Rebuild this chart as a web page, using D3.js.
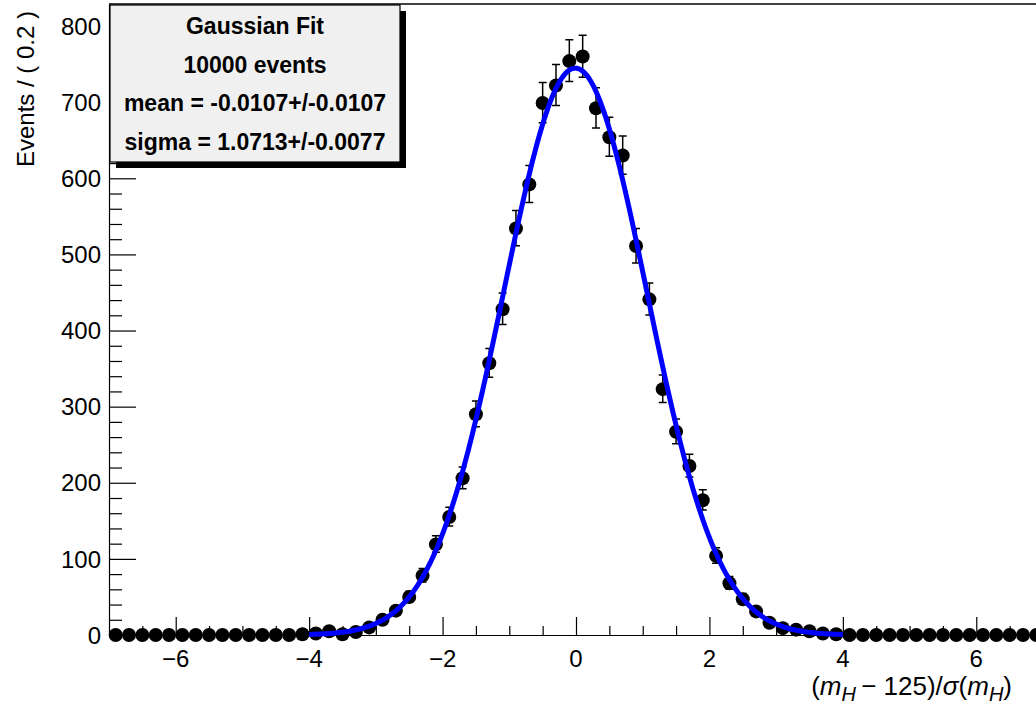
<!DOCTYPE html>
<html>
<head>
<meta charset="utf-8">
<script src="https://cdn.jsdelivr.net/npm/d3@7"></script>
<style>
  html, body { margin: 0; padding: 0; background: #ffffff; }
  svg { display: block; font-family: "Liberation Sans", Arial, Helvetica, sans-serif; }
</style>
</head>
<body>
<svg id="chart" width="1036" height="708"></svg>
<script>
// Histogram binning: 70 bins of width 0.2 covering [-7, 7]
const binLow = -7;
const binWidth = 0.2;
const counts = [
  0, 0, 0, 0, 0, 0, 0, 0, 0, 0, 0, 0, 0, 0,           // -6.9 .. -4.3
  1, 2, 5, 1, 4, 10, 20, 32, 50, 78,                    // -4.1 .. -2.3
  119, 155, 206, 290, 357, 428, 534, 592, 699, 722,     // -2.1 .. -0.3
  754, 760, 692, 654, 630, 511, 441, 323, 267, 222,     // -0.1 .. 1.7
  177, 104, 68, 47, 31, 16, 9, 7, 5, 2,                 //  1.9 .. 3.7
  1,                                                    //  3.9
  0, 0, 0, 0, 0, 0, 0, 0, 0, 0, 0, 0, 0, 0, 0           //  4.1 .. 6.9
];

// Fit result shown in the statistics box
const nEvents = 10000;
const fitMean = -0.0107, fitMeanErr = 0.0107;
const fitSigma = 1.0713, fitSigmaErr = 0.0077;
const curveRange = [-4, 4];

const xTickLabels = [-6, -4, -2, 0, 2, 4, 6];
const yTickLabels = [0, 100, 200, 300, 400, 500, 600, 700, 800];

const svg = d3.select("#chart");

const defs = svg.append("defs");
defs.append("filter").attr("id", "soft")
  .attr("x", "-50%").attr("y", "-50%").attr("width", "200%").attr("height", "200%")
  .append("feGaussianBlur").attr("stdDeviation", 0.6);

const x = d3.scaleLinear().domain([-7, 7]).range([109, 1043]);
const y = d3.scaleLinear().domain([0, 829]).range([635, 4]);

const data = counts.map((n, i) => {
  const s = Math.sqrt(n + 0.25);
  return {
    c: binLow + binWidth * (i + 0.5),
    n: n,
    lo: n > 0 ? s - 0.5 : 0,
    hi: s + 0.5
  };
});

// Frame: top border line
svg.append("line")
  .attr("x1", x(-7)).attr("x2", 1036)
  .attr("y1", 4).attr("y2", 4)
  .attr("stroke", "#000").attr("stroke-width", 1.5);

// Y axis (ticks pointing inward)
const yAxis = d3.axisLeft(y)
  .tickValues(d3.range(0, 821, 20))
  .tickSize(0)
  .tickFormat("");
const yg = svg.append("g").attr("transform", `translate(${x(-7)},0)`).call(yAxis);
yg.select(".domain").attr("stroke", "#000").attr("stroke-width", 1.2);
yg.selectAll(".tick line")
  .attr("x2", d => (d % 100 === 0 ? 27 : 13))
  .attr("stroke", "#000").attr("stroke-width", 1.2);
svg.append("g").selectAll("text").data(yTickLabels).join("text")
  .attr("x", 101).attr("y", d => y(d))
  .attr("dy", "0.36em")
  .attr("text-anchor", "end")
  .attr("font-size", 24)
  .text(d => d);

// X axis (ticks pointing inward)
const xMinor = d3.range(-6.5, 7.01, 0.5).map(v => Math.round(v * 10) / 10);
const xAxis = d3.axisBottom(x).tickValues(xMinor).tickSize(0).tickFormat("");
const xg = svg.append("g").attr("transform", `translate(0,${y(0)})`).call(xAxis);
xg.select(".domain").attr("stroke", "#000").attr("stroke-width", 1.2);
xg.selectAll(".tick line")
  .attr("y2", d => (xTickLabels.includes(d) ? -18 : -9))
  .attr("stroke", "#000").attr("stroke-width", 1.2);
svg.append("g").selectAll("text").data(xTickLabels).join("text")
  .attr("x", d => x(d)).attr("y", 667)
  .attr("text-anchor", "middle")
  .attr("font-size", 24)
  .text(d => (d < 0 ? "\u2212" + Math.abs(d) : String(d)));

// Axis titles
svg.append("text")
  .attr("transform", "translate(34,11) rotate(-90)")
  .attr("text-anchor", "end")
  .attr("font-size", 24)
  .text("Events / ( 0.2 )");

const xt = svg.append("text")
  .attr("x", 1012).attr("y", 695)
  .attr("text-anchor", "end")
  .attr("font-size", 26);
xt.append("tspan").text("(");
xt.append("tspan").attr("font-style", "italic").text("m");
xt.append("tspan").attr("font-style", "italic").attr("font-size", 20).attr("dy", 6).text("H");
xt.append("tspan").attr("dy", -6).text("\u2009\u2212 125)/");
xt.append("tspan").attr("font-style", "italic").text("\u03c3");
xt.append("tspan").text("(");
xt.append("tspan").attr("font-style", "italic").text("m");
xt.append("tspan").attr("font-style", "italic").attr("font-size", 20).attr("dy", 6).text("H");
xt.append("tspan").attr("dy", -6).text(")");

// Data points with error bars
const pts = svg.append("g");
const capW = 4;
pts.selectAll("line.err").data(data.filter(d => d.n > 0)).join("line")
  .attr("class", "err")
  .attr("x1", d => x(d.c)).attr("x2", d => x(d.c))
  .attr("y1", d => y(d.n - d.lo)).attr("y2", d => y(d.n + d.hi))
  .attr("stroke", "#000").attr("stroke-width", 1.5);
pts.selectAll("path.cap").data(data.filter(d => d.n > 0)).join("path")
  .attr("class", "cap")
  .attr("d", d => {
    const cx = x(d.c), t = y(d.n + d.hi), b = y(d.n - d.lo);
    return `M${cx - capW},${t}H${cx + capW}M${cx - capW},${b}H${cx + capW}`;
  })
  .attr("stroke", "#000").attr("stroke-width", 1.5).attr("fill", "none");
pts.append("g").attr("filter", "url(#soft)")
  .selectAll("circle").data(data).join("circle")
  .attr("cx", d => x(d.c)).attr("cy", d => y(d.n))
  .attr("r", 7)
  .attr("fill", "#000");

// Fitted Gaussian, normalised to the number of events per bin
const norm = nEvents * binWidth / (fitSigma * Math.sqrt(2 * Math.PI));
const curveX = d3.range(curveRange[0], curveRange[1] + 1e-9, 0.02);
const curve = curveX.map(v => [v, norm * Math.exp(-0.5 * Math.pow((v - fitMean) / fitSigma, 2))]);
svg.append("path")
  .datum(curve)
  .attr("d", d3.line().x(d => x(d[0])).y(d => y(d[1])))
  .attr("fill", "none")
  .attr("stroke", "#0000ff")
  .attr("stroke-width", 5)
  .attr("stroke-linejoin", "round");

// Statistics box with drop shadow
const box = { x0: 110, y0: 5, x1: 400, y1: 162, shadow: 6 };
svg.append("rect")
  .attr("x", box.x0 + box.shadow).attr("y", box.y0 + box.shadow)
  .attr("width", box.x1 - box.x0).attr("height", box.y1 - box.y0)
  .attr("fill", "#000");
svg.append("rect")
  .attr("x", box.x0).attr("y", box.y0)
  .attr("width", box.x1 - box.x0).attr("height", box.y1 - box.y0)
  .attr("fill", "#f0f0f0").attr("stroke", "#000").attr("stroke-width", 1.2);

const statLines = [
  "Gaussian Fit",
  nEvents + " events",
  "mean = " + fitMean.toFixed(4) + "+/-" + fitMeanErr.toFixed(4),
  "sigma = " + fitSigma.toFixed(4) + "+/-" + fitSigmaErr.toFixed(4)
];
svg.append("g").selectAll("text").data(statLines).join("text")
  .attr("x", (box.x0 + box.x1) / 2)
  .attr("y", (d, i) => 34 + i * 38.5)
  .attr("text-anchor", "middle")
  .attr("font-size", 23)
  .attr("font-weight", "bold")
  .text(d => d);
</script>
</body>
</html>
